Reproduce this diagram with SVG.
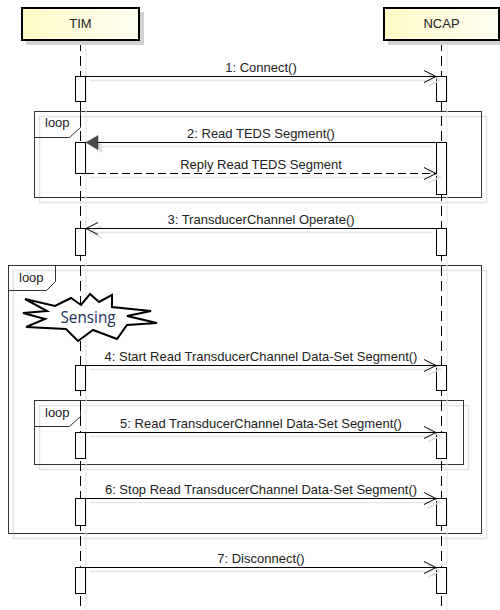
<svg xmlns="http://www.w3.org/2000/svg" width="500" height="610" viewBox="0 0 500 610">
  <defs>
    <linearGradient id="actorFill" x1="0" y1="0" x2="1" y2="0">
      <stop offset="0" stop-color="#fffbc6"/>
      <stop offset="1" stop-color="#fffff2"/>
    </linearGradient>
    <style>
      .lbl { font-family: "Liberation Sans", Arial, sans-serif; font-size: 13px; fill: #222; }
      .actor { fill: url(#actorFill); stroke: #000; stroke-width: 2; }
      .actor-shadow { fill: #d2d2d2; }
      .life { stroke: #000; stroke-width: 1; stroke-dasharray: 10 5; fill: none; }
      .life-shadow { stroke: #e4e4e4; stroke-width: 1; fill: none; }
      .bar { fill: #fff; stroke: #000; stroke-width: 1; }
      .msg { stroke: #000; stroke-width: 1; fill: none; }
      .msg-shadow { stroke: #e6e6e6; stroke-width: 1.5; fill: none; }
      .dash { stroke-dasharray: 8 4; }
      .frame { fill: none; stroke: #333; stroke-width: 1; }
      .frame-shadow { fill: none; stroke: #e2e2e2; stroke-width: 1.5; }
      .open { stroke: #000; stroke-width: 1; fill: none; }
      .open-shadow { stroke: #e0e0e0; stroke-width: 1.5; fill: none; }
    </style>
  </defs>

  <rect width="500" height="610" fill="#fff"/>

  <!-- combined fragments -->
  <g id="frames">
    <g id="loop-teds">
      <rect class="frame-shadow" x="39.5" y="116.5" width="447" height="86"/>
      <rect class="frame" x="34.5" y="111.5" width="447" height="86"/>
      <path class="frame" d="M34.5 137.5 H69.5 L80.5 127.5 V111.5"/>
      <text class="lbl" x="45" y="127">loop</text>
    </g>
    <g id="loop-outer">
      <rect class="frame-shadow" x="13.5" y="270.5" width="473" height="268"/>
      <rect class="frame" x="8.5" y="265.5" width="473" height="268"/>
      <path class="frame" d="M8.5 290.5 H46.5 L55.5 281.5 V265.5"/>
      <text class="lbl" x="19" y="282">loop</text>
    </g>
    <g id="loop-inner">
      <rect class="frame-shadow" x="39.5" y="405.5" width="429" height="64"/>
      <rect class="frame" x="34.5" y="400.5" width="429" height="64"/>
      <path class="frame" d="M34.5 426.5 H69.5 L80.5 416.5 V400.5"/>
      <text class="lbl" x="45" y="417">loop</text>
    </g>
  </g>

  <!-- lifelines and participants -->
  <g id="TIM">
    <line class="life-shadow" x1="86" y1="45" x2="86" y2="610"/>
    <line class="life" x1="80.5" y1="41" x2="80.5" y2="610"/>
    <rect class="actor-shadow" x="26" y="12" width="118" height="33"/>
    <rect class="actor" x="22" y="8" width="117" height="32"/>
    <text class="lbl" x="80.5" y="28" text-anchor="middle">TIM</text>
  </g>
  <g id="NCAP">
    <line class="life-shadow" x1="447" y1="45" x2="447" y2="610"/>
    <line class="life" x1="441.5" y1="41" x2="441.5" y2="610"/>
    <rect class="actor-shadow" x="388" y="12" width="116" height="33"/>
    <rect class="actor" x="384" y="8" width="115" height="32"/>
    <text class="lbl" x="441.5" y="28" text-anchor="middle">NCAP</text>
  </g>

  <!-- activation bars -->
  <g id="activations">
    <rect class="bar" x="75.5" y="76.5" width="10" height="25"/>
    <rect class="bar" x="436.5" y="76.5" width="10" height="25"/>
    <rect class="bar" x="75.5" y="142.5" width="10" height="31"/>
    <rect class="bar" x="436.5" y="142.5" width="10" height="52"/>
    <rect class="bar" x="75.5" y="228.5" width="10" height="27"/>
    <rect class="bar" x="436.5" y="228.5" width="10" height="27"/>
    <rect class="bar" x="75.5" y="365.5" width="10" height="25"/>
    <rect class="bar" x="436.5" y="365.5" width="10" height="25"/>
    <rect class="bar" x="75.5" y="432.5" width="10" height="26"/>
    <rect class="bar" x="436.5" y="432.5" width="10" height="26"/>
    <rect class="bar" x="75.5" y="498.5" width="10" height="27"/>
    <rect class="bar" x="436.5" y="498.5" width="10" height="27"/>
    <rect class="bar" x="75.5" y="567.5" width="10" height="26"/>
    <rect class="bar" x="436.5" y="567.5" width="10" height="26"/>
  </g>

  <!-- messages -->
  <g id="connectors">
    <!-- 1 -->
    <line class="msg-shadow" x1="90" y1="80.5" x2="432" y2="80.5"/>
    <path class="open-shadow" d="M428 74 L440 80 L428 86"/>
    <line class="msg" x1="86" y1="76.5" x2="436" y2="76.5"/>
    <path class="open" d="M424 70.5 L436 76.5 L424 82.5"/>
    <text class="lbl" x="261" y="72" text-anchor="middle">1: Connect()</text>

    <!-- 2 -->
    <line class="msg-shadow" x1="100" y1="146.5" x2="432" y2="146.5"/>
    <polygon points="90,146 102,140 102,153" fill="#e2e2e2"/>
    <line class="msg" x1="98" y1="142.5" x2="436" y2="142.5"/>
    <polygon points="86,142.5 98,135.5 98,149.5" fill="#4a4a4a" stroke="#333" stroke-width="0.5"/>
    <text class="lbl" x="261" y="138" text-anchor="middle">2: Read TEDS Segment()</text>

    <!-- reply -->
    <line class="msg-shadow" x1="90" y1="177.5" x2="432" y2="177.5"/>
    <path class="open-shadow" d="M428 171 L440 177 L428 183"/>
    <line class="msg dash" x1="86" y1="173.5" x2="436" y2="173.5"/>
    <path class="open" d="M424 167.5 L436 173.5 L424 179.5"/>
    <text class="lbl" x="261" y="169" text-anchor="middle">Reply Read TEDS Segment</text>

    <!-- 3 -->
    <line class="msg-shadow" x1="92" y1="232.5" x2="432" y2="232.5"/>
    <path class="open-shadow" d="M102 226 L90 232 L102 238"/>
    <line class="msg" x1="86" y1="228.5" x2="436" y2="228.5"/>
    <path class="open" d="M98 222.5 L86 228.5 L98 234.5"/>
    <text class="lbl" x="261" y="224" text-anchor="middle">3: TransducerChannel Operate()</text>

    <!-- 4 -->
    <line class="msg-shadow" x1="90" y1="369.5" x2="432" y2="369.5"/>
    <path class="open-shadow" d="M428 363 L440 369 L428 375"/>
    <line class="msg" x1="86" y1="365.5" x2="436" y2="365.5"/>
    <path class="open" d="M424 359.5 L436 365.5 L424 371.5"/>
    <text class="lbl" x="261" y="361" text-anchor="middle">4: Start Read TransducerChannel Data-Set Segment()</text>

    <!-- 5 -->
    <line class="msg-shadow" x1="90" y1="436.5" x2="432" y2="436.5"/>
    <path class="open-shadow" d="M428 430 L440 436 L428 442"/>
    <line class="msg" x1="86" y1="432.5" x2="436" y2="432.5"/>
    <path class="open" d="M424 426.5 L436 432.5 L424 438.5"/>
    <text class="lbl" x="261" y="428" text-anchor="middle">5: Read TransducerChannel Data-Set Segment()</text>

    <!-- 6 -->
    <line class="msg-shadow" x1="90" y1="502.5" x2="432" y2="502.5"/>
    <path class="open-shadow" d="M428 496 L440 502 L428 508"/>
    <line class="msg" x1="86" y1="498.5" x2="436" y2="498.5"/>
    <path class="open" d="M424 492.5 L436 498.5 L424 504.5"/>
    <text class="lbl" x="261" y="494" text-anchor="middle">6: Stop Read TransducerChannel Data-Set Segment()</text>

    <!-- 7 -->
    <line class="msg-shadow" x1="90" y1="571.5" x2="432" y2="571.5"/>
    <path class="open-shadow" d="M428 565 L440 571 L428 577"/>
    <line class="msg" x1="86" y1="567.5" x2="436" y2="567.5"/>
    <path class="open" d="M424 561.5 L436 567.5 L424 573.5"/>
    <text class="lbl" x="261" y="563" text-anchor="middle">7: Disconnect()</text>
  </g>

  <!-- event burst -->
  <g id="sensing">
    <polygon points="25,299 55,306 71,298 81,305 90,294 99,302 112,295 112,307 151,311 127,316 157,323 127,325 117,339 93,330 78,341 66,329 26,327 45,319 23,313 47,311"
             fill="#fff" stroke="#000" stroke-width="2" stroke-linejoin="miter"/>
    <text x="88" y="323" text-anchor="middle" font-family="'Open Sans', 'Liberation Sans', sans-serif" font-size="16" fill="#23335a" textLength="55" lengthAdjust="spacingAndGlyphs">Sensing</text>
  </g>
</svg>
